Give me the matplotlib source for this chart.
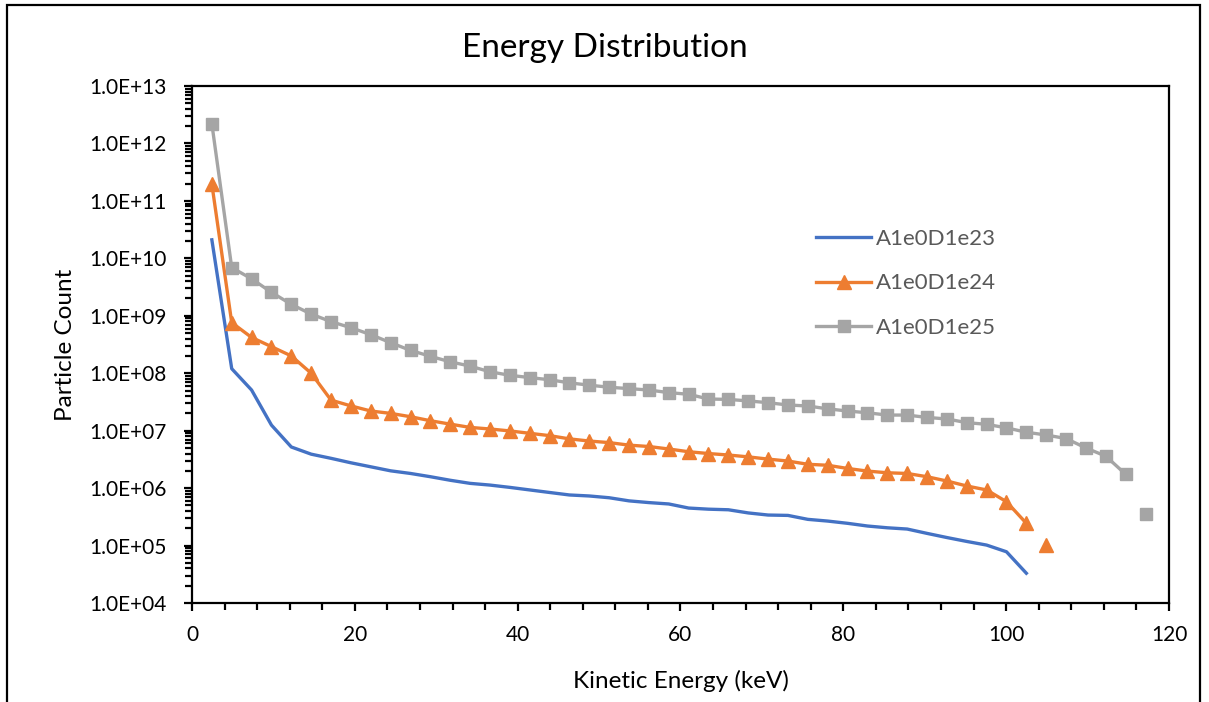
import numpy as np
import matplotlib
matplotlib.use('Agg')
import matplotlib.pyplot as plt
from matplotlib.ticker import FuncFormatter, LogLocator, MultipleLocator
from matplotlib.patches import Rectangle

plt.rcParams['font.family'] = ['Lato', 'DejaVu Sans']

##bin energies (keV), one bin every 2.44 keV
step = 2.44
energy_23 = step * np.arange(1, 43)
energy_24 = step * np.arange(1, 44)
energy_25 = step * np.arange(1, 49)

##particle counts per bin
count_23 = [2.1e10, 1.2e8, 5.1e7, 1.25e7, 5.2e6, 3.9e6, 3.3e6, 2.76e6, 2.35e6, 2.0e6,
            1.8e6, 1.58e6, 1.37e6, 1.21e6, 1.13e6, 1.03e6, 9.3e5, 8.4e5, 7.6e5, 7.3e5,
            6.8e5, 6.0e5, 5.6e5, 5.3e5, 4.5e5, 4.3e5, 4.2e5, 3.7e5, 3.4e5, 3.35e5,
            2.86e5, 2.67e5, 2.44e5, 2.19e5, 2.04e5, 1.94e5, 1.63e5, 1.38e5, 1.18e5, 1.02e5,
            7.8e4, 3.3e4]
count_24 = [1.96e11, 7.6e8, 4.2e8, 2.9e8, 2.0e8, 1.0e8, 3.4e7, 2.7e7, 2.2e7, 2.0e7,
            1.75e7, 1.49e7, 1.3e7, 1.14e7, 1.07e7, 9.9e6, 9.0e6, 8.2e6, 7.2e6, 6.6e6,
            6.2e6, 5.6e6, 5.3e6, 4.8e6, 4.3e6, 4.0e6, 3.77e6, 3.5e6, 3.2e6, 2.96e6,
            2.6e6, 2.5e6, 2.2e6, 1.98e6, 1.85e6, 1.8e6, 1.58e6, 1.33e6, 1.09e6, 9.3e5,
            5.8e5, 2.44e5, 1.02e5]
count_25 = [2.2e12, 6.9e9, 4.4e9, 2.56e9, 1.58e9, 1.07e9, 7.9e8, 6.2e8, 4.7e8, 3.4e8,
            2.5e8, 1.97e8, 1.58e8, 1.33e8, 1.06e8, 9.2e7, 8.4e7, 7.7e7, 6.8e7, 6.2e7,
            5.7e7, 5.4e7, 5.1e7, 4.6e7, 4.3e7, 3.56e7, 3.5e7, 3.3e7, 3.07e7, 2.8e7,
            2.69e7, 2.4e7, 2.2e7, 2.05e7, 1.87e7, 1.87e7, 1.7e7, 1.6e7, 1.38e7, 1.29e7,
            1.12e7, 9.4e6, 8.4e6, 7.3e6, 5.0e6, 3.6e6, 1.74e6, 3.5e5]

labels = ['A1e0D1e23', 'A1e0D1e24', 'A1e0D1e25']
colors = ['#4472C4', '#ED7D31', '#A5A5A5']


def sci_label(v, pos):
    exp = int(np.round(np.log10(v)))
    return f'1.0E+{exp:02d}'


fig = plt.figure(figsize=(12.09, 7.02), dpi=100)
ax = fig.add_axes([0.1588, 0.141, 0.8081, 0.7365])

ax.plot(energy_23, count_23, color=colors[0], lw=2.4, label=labels[0])

##last bin is left unconnected, only the marker is drawn
ax.plot(energy_24[:-1], count_24[:-1], color=colors[1], lw=2.4)
ax.plot(energy_24, count_24, ls='none', marker='^', ms=10, color=colors[1])
ax.plot([], [], color=colors[1], lw=2.4, marker='^', ms=10, label=labels[1])

ax.plot(energy_25[:-1], count_25[:-1], color=colors[2], lw=2.4)
ax.plot(energy_25, count_25, ls='none', marker='s', ms=8.5, color=colors[2])
ax.plot([], [], color=colors[2], lw=2.4, marker='s', ms=8.5, label=labels[2])

ax.set_yscale('log')
ax.set_ylim(1e4, 1e13)
ax.set_xlim(0, 120)
ax.xaxis.set_major_locator(MultipleLocator(20))
ax.xaxis.set_minor_locator(MultipleLocator(4))
ax.yaxis.set_major_locator(LogLocator(base=10, numticks=20))
ax.yaxis.set_minor_locator(LogLocator(base=10, subs=np.arange(2, 10), numticks=100))
ax.yaxis.set_major_formatter(FuncFormatter(sci_label))
ax.yaxis.set_minor_formatter(FuncFormatter(lambda v, p: ''))

for s in ax.spines.values():
    s.set_linewidth(1.6)
    s.set_color('black')
ax.tick_params(which='both', direction='out', width=1.6, labelsize=15, colors='black')
ax.tick_params(which='major', length=6)
ax.tick_params(which='minor', length=5)
ax.tick_params(axis='y', which='major', pad=12)
ax.tick_params(axis='x', which='major', pad=10)

fig.text(0.5, 1 - 48 / 702, 'Energy Distribution', fontsize=24,
         ha='center', va='center')
ax.set_xlabel('Kinetic Energy (keV)', fontsize=17.5, labelpad=18)
ax.set_ylabel('Particle Count', fontsize=17.5, labelpad=10)

leg = ax.legend(loc='upper left', bbox_to_anchor=(0.618, 0.762), frameon=False,
                fontsize=16, handlelength=2.5, labelspacing=1.1, handletextpad=0.2)
for t in leg.get_texts():
    t.set_color('#595959')

##outer chart frame
fig.patches.append(Rectangle((7 / 1209, -0.1), 1193 / 1209, 1.1 - 5 / 702,
                             transform=fig.transFigure, fill=False,
                             edgecolor='black', lw=1.6))

fig.savefig('out.png', dpi=100)
